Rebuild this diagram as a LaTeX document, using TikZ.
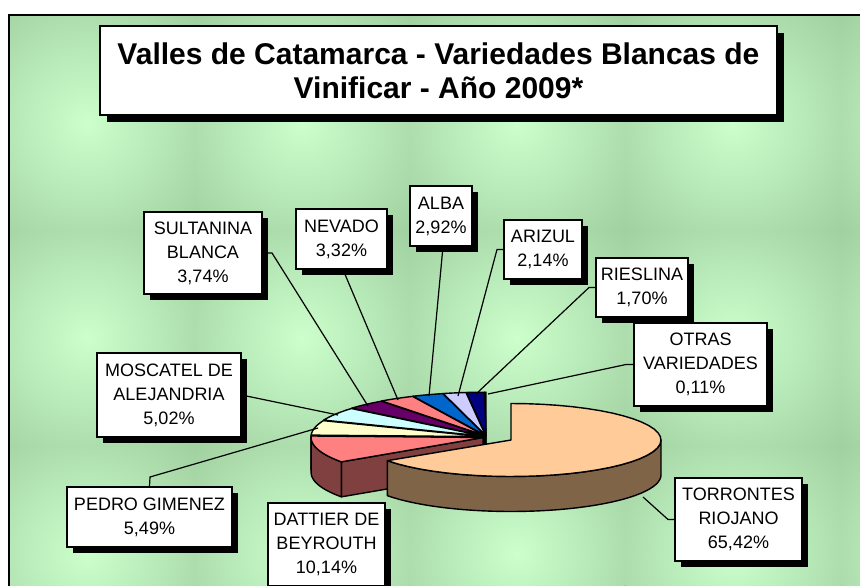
\documentclass[tikz,border=0pt]{standalone}
\usepackage{fontspec}
\setmainfont{Liberation Sans}
\usetikzlibrary{shadows}
\definecolor{bgbase}{RGB}{143,188,143}
\definecolor{bglight}{RGB}{204,255,204}
\definecolor{torrtop}{RGB}{255,204,153}
\definecolor{torrside}{RGB}{128,100,72}
\definecolor{datttop}{RGB}{255,128,128}
\definecolor{dattside}{RGB}{128,64,64}
\definecolor{pedrotop}{RGB}{255,255,204}
\definecolor{mosctop}{RGB}{204,255,255}
\definecolor{sulttop}{RGB}{102,0,102}
\definecolor{nevtop}{RGB}{255,128,128}
\definecolor{albatop}{RGB}{0,102,204}
\definecolor{ariztop}{RGB}{204,204,255}
\definecolor{riestop}{RGB}{0,0,128}
\definecolor{otrastop}{RGB}{255,0,255}
\pgfdeclareradialshading{bgspot}{\pgfpoint{0bp}{0bp}}{color(0bp)=(bglight); color(50bp)=(bgbase); color(100bp)=(bgbase)}
% #1 cx #2 cy #3 rx #4 ry #5 a1 #6 a2 #7 top #8 side #9 explode
\newcommand\pieslc[9]{%
  \pgfmathsetmacro\pm{(#5+#6)/2}%
  \pgfmathsetmacro\pcx{#1+#9*cos(\pm)}%
  \pgfmathsetmacro\pcy{#2-0.6*#9*sin(\pm)}%
  \def\pH{35}%
  \pgfmathtruncatemacro\vis{(#6>90.01 && #6<269.99) ? 1 : 0}%
  \ifnum\vis=1
    \pgfmathsetmacro\pxa{\pcx+#3*cos(#6)}%
    \pgfmathsetmacro\pya{\pcy-#4*sin(#6)}%
    \filldraw[slc, fill=#8] (\pcx,\pcy) -- (\pxa,\pya) -- (\pxa,\pya+\pH) -- (\pcx,\pcy+\pH) -- cycle;
  \fi
  \pgfmathsetmacro\pbA{max(#5,180)}%
  \pgfmathsetmacro\pbB{min(#6,360)}%
  \pgfmathtruncatemacro\visr{(\pbB>\pbA+0.5) ? 1 : 0}%
  \ifnum\visr=1
    \filldraw[slc, fill=#8] plot[domain=\pbA:\pbB,samples=40] ({\pcx+#3*cos(\x)},{\pcy-#4*sin(\x)})
      -- plot[domain=\pbB:\pbA,samples=40] ({\pcx+#3*cos(\x)},{\pcy-#4*sin(\x)+\pH}) -- cycle;
  \fi
  \filldraw[slc, fill=#7] (\pcx,\pcy) -- plot[domain=#5:#6,samples=40] ({\pcx+#3*cos(\x)},{\pcy-#4*sin(\x)}) -- cycle;
}
\begin{document}
\begin{tikzpicture}[x=1pt,y=-1pt,
  slc/.style={draw=black, line width=1.4pt, line join=round},
  lbl/.style={draw=black, fill=white, line width=1.2pt, inner sep=0pt, align=center,
    font=\fontsize{18}{24}\selectfont,
    drop shadow={shadow xshift=6pt, shadow yshift=-6pt, opacity=1, fill=black}},
  leader/.style={draw=black, line width=1.2pt}]
\useasboundingbox (0,0) rectangle (860,586);
\fill[white] (0,0) rectangle (860,586);
% chart area background
\begin{scope}
\clip (9,15) rectangle (866,600);
\fill[bgbase] (9,15) rectangle (866,600);
\foreach \sx in {87,302,517,733,948}{
  \foreach \sy in {123,338,553}{
    \shade[shading=bgspot] (\sx-107.5,\sy-107.5) rectangle (\sx+107.5,\sy+107.5);
  }
}
\end{scope}
\draw[black, line width=2pt] (9,600) -- (9,15) -- (866,15);
% title
\node[draw=black, fill=white, line width=1.2pt, minimum width=677pt, minimum height=89pt,
  align=center, inner sep=0pt, font=\bfseries\fontsize{30}{34}\selectfont,
  drop shadow={shadow xshift=7pt, shadow yshift=-7pt, opacity=1, fill=black}]
  (title) at (438.5,70.5) {Valles de Catamarca - Variedades Blancas de\\Vinificar - Año 2009*};
% pie slices (back to front)
\pieslc{486}{437}{172}{43}{90}{90.396}{otrastop}{otrastop!50!black}{3}
\pieslc{486}{437}{172}{43}{90.396}{96.516}{riestop}{riestop!50!black}{3}
\pieslc{486}{437}{172}{43}{96.516}{104.22}{ariztop}{ariztop!50!black}{3}
\pieslc{486}{437}{172}{43}{104.22}{114.732}{albatop}{albatop!50!black}{3}
\pieslc{486}{437}{172}{43}{114.732}{126.684}{nevtop}{nevtop!50!black}{3}
\pieslc{486}{437}{172}{43}{126.684}{140.148}{sulttop}{sulttop!50!black}{3}
\pieslc{486}{437}{172}{43}{140.148}{158.22}{mosctop}{mosctop!50!black}{3}
\pieslc{486}{437}{172}{43}{158.22}{177.984}{pedrotop}{pedrotop!50!black}{3}
\pieslc{486}{437}{172}{43}{177.984}{214.488}{datttop}{dattside}{3}
\pieslc{511}{440}{150}{36.5}{214.488}{450}{torrtop}{torrside}{0}
% labels
\node[lbl, minimum width=127pt, minimum height=83pt] (torr) at (738.5,519.5) {TORRONTES\\RIOJANO\\65,42\%};
\node[lbl, minimum width=133pt, minimum height=83pt] (otras) at (700.5,364.5) {OTRAS\\VARIEDADES\\0,11\%};
\node[lbl, minimum width=92pt, minimum height=59pt] (ries) at (642,287.5) {RIESLINA\\1,70\%};
\node[lbl, minimum width=78pt, minimum height=59pt] (ariz) at (543,249.5) {ARIZUL\\2,14\%};
\node[lbl, minimum width=62pt, minimum height=60pt] (alba) at (441,216) {ALBA\\2,92\%};
\node[lbl, minimum width=91pt, minimum height=60pt] (nev) at (341.5,239) {NEVADO\\3,32\%};
\node[lbl, minimum width=118pt, minimum height=82pt] (sult) at (203,253) {SULTANINA\\BLANCA\\3,74\%};
\node[lbl, minimum width=144pt, minimum height=84pt] (mosc) at (169,395) {MOSCATEL DE\\ALEJANDRIA\\5,02\%};
\node[lbl, minimum width=165pt, minimum height=60pt] (pedro) at (149.5,517) {PEDRO GIMENEZ\\5,49\%};
\node[lbl, minimum width=117pt, minimum height=83pt] (datt) at (326.5,544.5) {DATTIER DE\\BEYROUTH\\10,14\%};
% leader lines
\coordinate (pTorr) at (643,497);
\coordinate (pOtras) at (488,394);
\coordinate (pRies) at (476,394);
\coordinate (pAriz) at (458,396);
\coordinate (pAlba) at (429,396);
\coordinate (pNev) at (398,400);
\coordinate (pSult) at (368,406);
\coordinate (pMosc) at (338,415);
\coordinate (pPedro) at (318,428);
\draw[leader] (pTorr) -- (668,519.5) -- (torr.west);
\draw[leader] (pOtras) -- (626,364.5) -- (otras.west);
\draw[leader] (pRies) -- (589,287.5) -- (ries.west);
\draw[leader] (pAriz) -- (497,249.5) -- (ariz.west);
\draw[leader] (pAlba) -- ([xshift=2pt]alba.south);
\draw[leader] (pNev) -- ([xshift=1.5pt]nev.south);
\draw[leader] (pSult) -- (272,253) -- (sult.east);
\draw[leader] (pMosc) -- (mosc.east);
\draw[leader] (pPedro) -- (150,477) -- (pedro.north);
\end{tikzpicture}
\end{document}
